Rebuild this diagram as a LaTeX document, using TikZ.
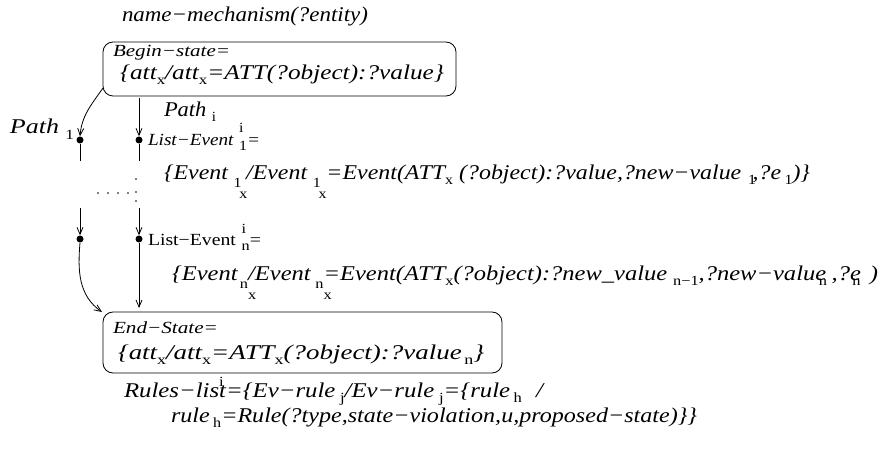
\documentclass[tikz,border=0pt]{standalone}
\usepackage{fontspec}
\usepackage{graphicx}
\setmainfont{Liberation Serif}
\usetikzlibrary{arrows.meta}
\newcommand\ftm{\fontsize{21}{24}\selectfont\itshape}
\newcommand\fsm{\fontsize{17}{20}\selectfont}
\newcommand\fsb{\fontsize{14}{15}\selectfont\upshape}
\newcommand\lo[2]{\raisebox{-#1pt}{\fsb #2}}
\newcommand\hi[2]{\raisebox{#1pt}{\fsb #2}}
\newcommand\tw[2]{\resizebox{#1pt}{\height}{#2}}
\tikzset{
  txt/.style={inner sep=0pt, outer sep=0pt, anchor=base west},
  box/.style={draw, rounded corners=10pt, line width=0.8pt},
  dotn/.style={circle, fill, inner sep=0pt, minimum size=7pt},
  arr/.style={line width=0.8pt, -{Straight Barb[length=7pt,width=6pt,line width=0.8pt]}},
  ln/.style={line width=0.8pt},
  tiny/.style={circle, fill, inner sep=0pt, minimum size=1.6pt}
}
\begin{document}
\begin{tikzpicture}[x=1pt,y=-1pt]
\useasboundingbox (0,0) rectangle (889,457);
% title
\node[txt] (title) at (122,22) {\tw{246}{\ftm name−mechanism(?entity)}};
% begin box
\draw[box] (103,42) rectangle (456,96);
\node[inner sep=0pt] (bs) at (279.5,69) {};
\node[txt] (bl1) at (113,57) {\tw{117}{\fsm\itshape Begin−state=}};
\node[txt] (bl2) at (120,80) {\tw{324}{\ftm \{att\lo{5}{x}/att\lo{5}{x}=ATT(?object):?value\}}};
% path labels
\node[txt] (path1) at (10,134) {\tw{64}{\ftm Path\hspace{5pt}\lo{6}{1}}};
\node[txt] (pathi) at (164,117) {\tw{52}{\ftm Path\hspace{5pt}\lo{5}{i}}};
% dots
\node[dotn] (p1a) at (80,140) {};
\node[dotn] (pia) at (139,140) {};
\node[dotn] (p1b) at (80,239) {};
\node[dotn] (pib) at (139,239) {};
% list event 1
\node[txt] (le1) at (148,146) {\tw{112}{\fsm\itshape List−Event\hspace{5pt}\rlap{\hi{13}{i}}\lo{5}{1}=}};
\node[txt] (ev1) at (164,180) {\tw{646}{\ftm \{Event\hspace{5pt}\lo{8}{1}\hspace{-2pt}\lo{19}{x}\hspace{-1pt}/Event\hspace{5pt}\lo{8}{1}\hspace{-2pt}\lo{19}{x}=Event(ATT\lo{5}{x}\ (?object):?value,?new−value\hspace{6pt}\lo{5}{1}\hspace{-3pt},?e\hspace{3pt}\lo{5}{1})\}}};
% list event n
\node[txt] (len) at (148,246) {\tw{113}{\fsm List−Event\hspace{5pt}\rlap{\hi{13}{i}}\lo{5}{n}=}};
\node[txt] (evn) at (172,280) {\tw{706}{\ftm \{Event\hspace{2pt}\lo{8}{n}\rlap{\lo{19}{x}}/Event\hspace{4pt}\lo{8}{n}\rlap{\lo{19}{x}}=Event(ATT\lo{5}{x}(?object):?new\_value\hspace{5pt}\lo{5}{n−1},?new−valu\rlap{e}\hspace{3pt}\lo{5}{n}\hspace{4pt},?\rlap{e}\hspace{2pt}\lo{5}{n}\hspace{8pt})}};
% ellipsis dots
\node[tiny] (e0) at (136,179) {};
\node[tiny] (e1) at (98,193) {};
\node[tiny] (e2) at (108,193) {};
\node[tiny] (e3) at (118,193) {};
\node[tiny] (e4) at (128,193) {};
\node[tiny] (e5) at (136,192) {};
\node[tiny] (e6) at (136,201) {};
% end box
\draw[box] (103,312) rectangle (502,373);
\node[inner sep=0pt] (es) at (302.5,342.5) {};
\node[txt] (el1) at (113,333) {\tw{105}{\fsm\itshape End−State=}};
\node[txt] (el2) at (118,359) {\tw{366}{\ftm \{att\lo{5}{x}/att\lo{5}{x}=ATT\lo{5}{x}(?object):?value\hspace{2pt}\lo{5}{n}\}}};
% rules
\node[txt] (r1) at (124,397) {\tw{419}{\ftm Rules−lis\rlap{\hi{11}{i}}t=\{Ev−rule\hspace{4pt}\lo{5}{j}/Ev−rule\hspace{4pt}\lo{5}{j}=\{rule\hspace{3pt}\lo{5}{h}\hspace{12pt}/}};
\node[txt] (r2) at (171,422) {\tw{526}{\ftm rule\hspace{3pt}\lo{5}{h}=Rule(?type,state−violation,u,proposed−state)\}\}}};
% connectors
\coordinate (c0) at (103,88);
\coordinate (c1) at (139,98);
\coordinate (c2) at (80,161);
\coordinate (c3) at (139,161);
\coordinate (c4) at (80,208);
\coordinate (c5) at (139,208);
\coordinate (c6) at (139,308);
\coordinate (c7) at (102,312);
\draw[arr] (c0) to[out=-125,in=85] (p1a.north);
\draw[arr] (c1) -- (pia.north);
\draw[ln] (p1a.south) -- (c2);
\draw[ln] (pia.south) -- (c3);
\draw[arr] (c4) -- (p1b.north);
\draw[arr] (c5) -- (pib.north);
\draw[arr] (p1b.south) to[out=-95,in=145] (c7);
\draw[arr] (pib.south) -- (c6);
\end{tikzpicture}
\end{document}
